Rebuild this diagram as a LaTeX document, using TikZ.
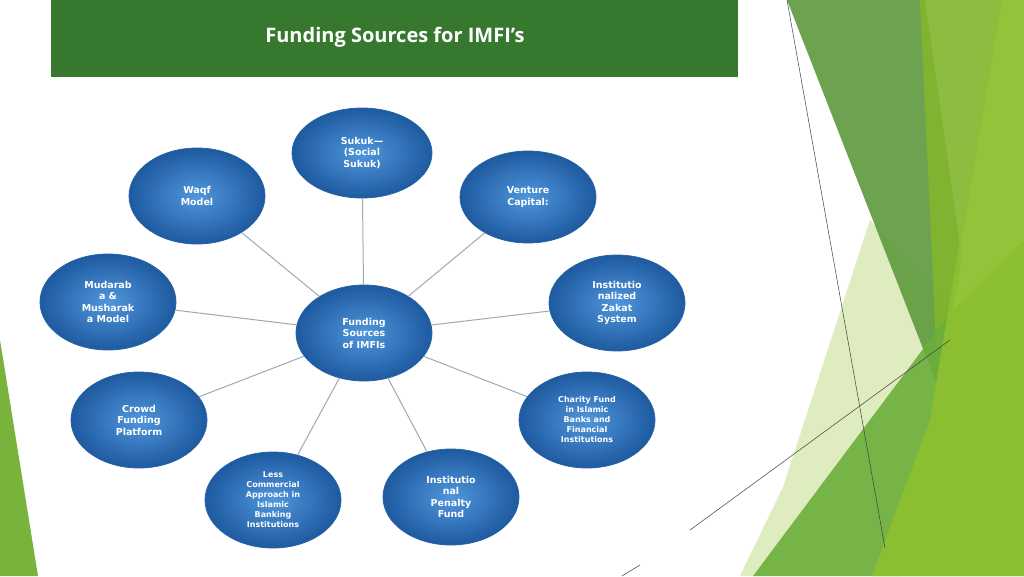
\documentclass[tikz,border=0pt]{standalone}
\usepackage{fontspec}
\setmainfont{DejaVu Sans}
\newfontfamily\titlefont{Open Sans}
\usetikzlibrary{shapes.geometric}
\begin{document}
\begin{tikzpicture}[x=1pt,y=-1pt,
  bub/.style={ellipse,minimum width=136pt,minimum height=96pt,inner sep=0pt,
    inner color={rgb,255:red,80;green,150;blue,220}, outer color={rgb,255:red,30;green,90;blue,160},
    draw={rgb,255:red,40;green,100;blue,165},line width=0.8pt,text=white,align=center,
    font=\bfseries\fontsize{9.5}{11.5}\selectfont},
  link/.style={draw={rgb,255:red,160;green,168;blue,184},line width=1pt},
  deco/.style={line width=0.5pt,draw=black!75}]
\useasboundingbox (0,0) rectangle (1024,576);
\fill[white] (0,0) rectangle (1024,576);
% decorations
\fill[fill={rgb,255:red,120;green,180;blue,60}] (0,340)--(38,576)--(0,576)--cycle;
\fill[fill={rgb,255:red,214;green,232;blue,176},opacity=0.8] (783,487)--(870,220)--(980,343)--(900,576)--(740,576)--cycle;
\fill[fill={rgb,255:red,94;green,154;blue,62},opacity=0.9] (787,0)--(925,0)--(962,260)--(938,387)--cycle;
\fill[fill={rgb,255:red,130;green,181;blue,45},opacity=0.9] (920,0)--(1002,0)--(960,250)--(938,385)--cycle;
\fill[fill={rgb,255:red,107;green,175;blue,59},opacity=0.9] (753,576)--(950,313)--(1024,240)--(1024,576)--cycle;
\fill[fill={rgb,255:red,141;green,192;blue,48},opacity=0.95] (1000,0)--(1024,0)--(1024,576)--(872,576)--(930,420)--cycle;
\coordinate (l1a) at (787,0); \coordinate (l1b) at (885,548);
\coordinate (l2a) at (690,530); \coordinate (l2b) at (950,340);
\coordinate (l3a) at (622,576); \coordinate (l3b) at (640,565);
\draw[deco] (l1a)--(l1b); \draw[deco] (l2a)--(l2b); \draw[deco] (l3a)--(l3b);
% title
\node[fill={rgb,255:red,54;green,120;blue,45},minimum width=687pt,minimum height=77pt,anchor=north west,inner sep=0pt] (bar) at (51,0) {};
\node[text=white,font=\titlefont\bfseries\fontsize{20}{24}\selectfont] (title) at (395,37) {Funding Sources for IMFI’s};
% bubbles
\node[bub] (c) at (364,333) {Funding\\Sources\\of IMFIs};
\node[bub,minimum width=140pt,minimum height=90pt] (s1) at (362,153) {Sukuk—\\(Social\\Sukuk)};
\node[bub,minimum height=92pt] (s2) at (528,197) {Venture\\Capital:};
\node[bub] (s3) at (617,303) {Institutio\\nalized\\Zakat\\System};
\node[bub,font=\bfseries\fontsize{8}{10}\selectfont] (s4) at (587,420) {Charity Fund\\in Islamic\\Banks and\\Financial\\Institutions};
\node[bub] (s5) at (451,497) {Institutio\\nal\\Penalty\\Fund};
\node[bub,font=\bfseries\fontsize{8}{10}\selectfont] (s6) at (273,500) {Less\\Commercial\\Approach in\\Islamic\\Banking\\Institutions};
\node[bub] (s7) at (139,420) {Crowd\\Funding\\Platform};
\node[bub] (s8) at (108,302) {Mudarab\\a \&\\Musharak\\a Model};
\node[bub] (s9) at (197,196) {Waqf\\Model};
\foreach \n in {s1,s2,s3,s4,s5,s6,s7,s8,s9}{\path[link] (c)--(\n);}
\end{tikzpicture}
\end{document}
